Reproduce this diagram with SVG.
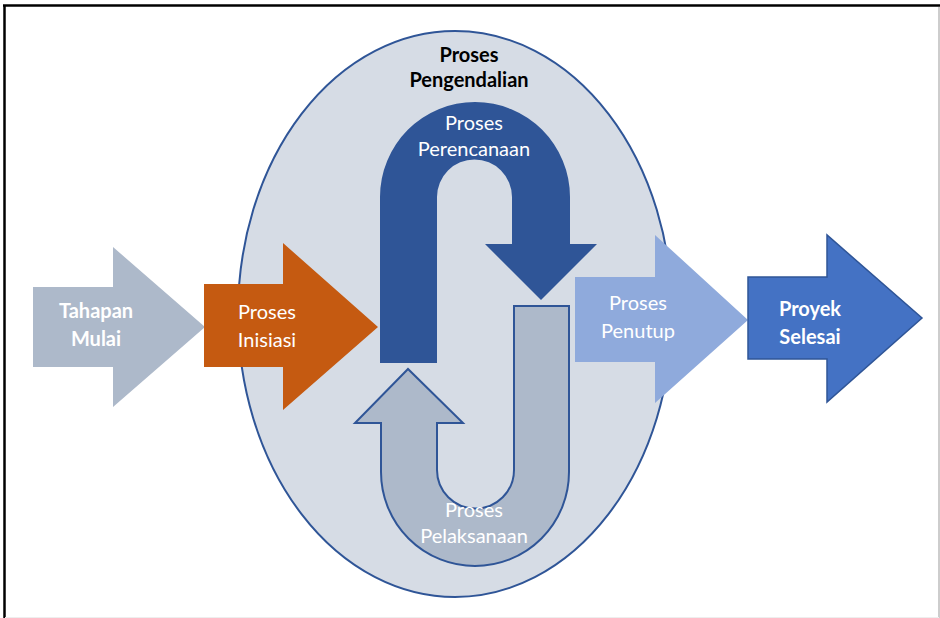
<svg xmlns="http://www.w3.org/2000/svg" width="940" height="618" viewBox="0 0 940 618">
<style>
  .t { font-family: Lato, "Open Sans", "Liberation Sans", sans-serif; font-size: 20px; text-anchor: middle; fill: #ffffff; }
  .b { font-weight: bold; }
  .title { fill: #000000; font-weight: bold; }
</style>
<rect x="0" y="0" width="940" height="618" fill="#ffffff"/>
<g id="frame">
  <line x1="3" y1="5.5" x2="940" y2="5.5" stroke="#000" stroke-width="2.5"/>
  <line x1="4.5" y1="5" x2="4.5" y2="618" stroke="#000" stroke-width="2.5"/>
  <line x1="939" y1="7" x2="939" y2="618" stroke="#bdbdbd" stroke-width="1.5"/>
  <line x1="5" y1="617.5" x2="939" y2="617.5" stroke="#eeeeee" stroke-width="1"/>
</g>
<g id="pengendalian">
  <ellipse cx="455" cy="314" rx="217" ry="283" fill="#D6DCE5" stroke="#2F5597" stroke-width="2"/>
  <text class="t title" x="469" y="62">Proses</text>
  <text class="t title" x="469" y="87">Pengendalian</text>
</g>
<g id="tahapan-mulai">
  <polygon points="33,287 113,287 113,247 205,327 113,407 113,367 33,367" fill="#ADB9CA"/>
  <text class="t b" x="96" y="318">Tahapan</text>
  <text class="t b" x="96" y="346">Mulai</text>
</g>
<g id="proses-inisiasi">
  <polygon points="204,284 283,284 283,243 378,327 283,410 283,367 204,367" fill="#C55A11"/>
  <text class="t" x="267" y="319">Proses</text>
  <text class="t" x="267" y="347">Inisiasi</text>
</g>
<g id="proses-pelaksanaan">
  <path d="M514,306 L569,306 L569,472 A94,94 0 0 1 381,472 L381,423 L355,423 L408,369 L463,423 L437,423 L437,470 A38.5,38.5 0 0 0 514,470 Z" fill="#ADB9CA" stroke="#2F5597" stroke-width="2"/>
  <text class="t" x="474" y="517">Proses</text>
  <text class="t" x="474" y="543">Pelaksanaan</text>
</g>
<g id="proses-perencanaan">
  <path d="M380,363 L380,197 A95,95 0 0 1 570,197 L570,244 L597,244 L541,300 L485,244 L512,244 L512,197 A37.5,37.5 0 0 0 437,197 L437,363 Z" fill="#2F5597"/>
  <text class="t" x="474" y="130">Proses</text>
  <text class="t" x="474" y="156">Perencanaan</text>
</g>
<g id="proses-penutup">
  <polygon points="575,277 655,277 655,235 748,320 655,403 655,362 575,362" fill="#8FAADC"/>
  <text class="t" x="638" y="310">Proses</text>
  <text class="t" x="638" y="338">Penutup</text>
</g>
<g id="proyek-selesai">
  <polygon points="748,277 827,277 827,235 922,318 827,402 827,359 748,359" fill="#4472C4" stroke="#2F5597" stroke-width="1.5"/>
  <text class="t b" x="810" y="316">Proyek</text>
  <text class="t b" x="810" y="344">Selesai</text>
</g>
<g id="connectors"></g>
</svg>
